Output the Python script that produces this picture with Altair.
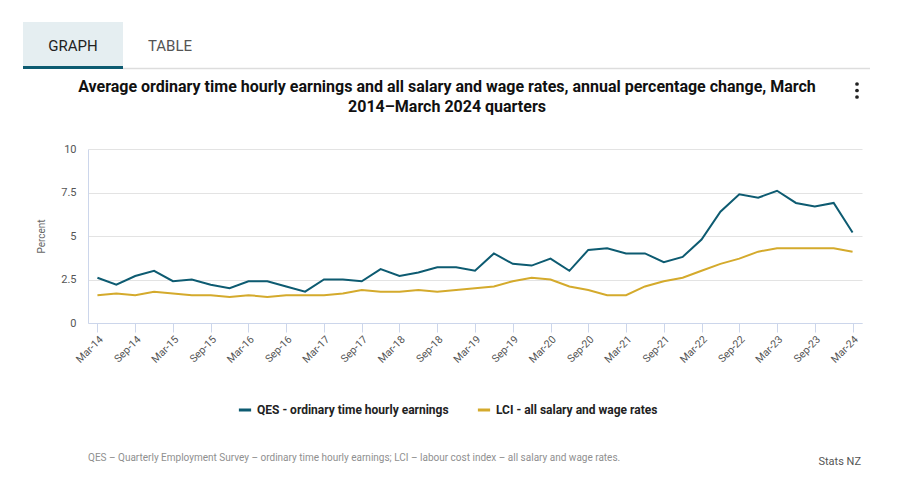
import altair as alt
import pandas as pd

quarters = [
    "Mar-14", "Jun-14", "Sep-14", "Dec-14",
    "Mar-15", "Jun-15", "Sep-15", "Dec-15",
    "Mar-16", "Jun-16", "Sep-16", "Dec-16",
    "Mar-17", "Jun-17", "Sep-17", "Dec-17",
    "Mar-18", "Jun-18", "Sep-18", "Dec-18",
    "Mar-19", "Jun-19", "Sep-19", "Dec-19",
    "Mar-20", "Jun-20", "Sep-20", "Dec-20",
    "Mar-21", "Jun-21", "Sep-21", "Dec-21",
    "Mar-22", "Jun-22", "Sep-22", "Dec-22",
    "Mar-23", "Jun-23", "Sep-23", "Dec-23",
    "Mar-24",
]

qes = [2.6, 2.2, 2.7, 3.0, 2.4, 2.5, 2.2, 2.0, 2.4, 2.4, 2.1, 1.8,
       2.5, 2.5, 2.4, 3.1, 2.7, 2.9, 3.2, 3.2, 3.0, 4.0, 3.4, 3.3,
       3.7, 3.0, 4.2, 4.3, 4.0, 4.0, 3.5, 3.8, 4.8, 6.4, 7.4, 7.2,
       7.6, 6.9, 6.7, 6.9, 5.2]

lci = [1.6, 1.7, 1.6, 1.8, 1.7, 1.6, 1.6, 1.5, 1.6, 1.5, 1.6, 1.6,
       1.6, 1.7, 1.9, 1.8, 1.8, 1.9, 1.8, 1.9, 2.0, 2.1, 2.4, 2.6,
       2.5, 2.1, 1.9, 1.6, 1.6, 2.1, 2.4, 2.6, 3.0, 3.4, 3.7, 4.1,
       4.3, 4.3, 4.3, 4.3, 4.1]

series_names = ["QES - ordinary time hourly earnings", "LCI - all salary and wage rates"]
series_colors = ["#0d5b71", "#d4aa2c"]

x_tick_labels = [q for q in quarters if q.startswith("Mar") or q.startswith("Sep")]
y_ticks = [0, 2.5, 5, 7.5, 10]

title_lines = [
    "Average ordinary time hourly earnings and all salary and wage rates, annual percentage change, March",
    "2014\u2013March 2024 quarters",
]
footnote = "QES \u2013 Quarterly Employment Survey \u2013 ordinary time hourly earnings; LCI \u2013 labour cost index \u2013 all salary and wage rates."
source = "Stats NZ"

rows = []
for q, v in zip(quarters, qes):
    rows.append({"quarter": q, "series": series_names[0], "value": v})
for q, v in zip(quarters, lci):
    rows.append({"quarter": q, "series": series_names[1], "value": v})
df = pd.DataFrame(rows)

FONT = "Roboto"
one = alt.Data(values=[{}])

lines = alt.Chart(df).mark_line(strokeWidth=2).encode(
    x=alt.X("quarter:O", sort=quarters,
            scale=alt.Scale(type="point", padding=0.5),
            axis=alt.Axis(title=None, values=x_tick_labels, labelAngle=-45,
                          labelFontSize=10.5, labelColor="#555555", labelFont=FONT,
                          tickSize=9, tickColor="#ccd6eb", domainColor="#ccd6eb",
                          labelPadding=2, grid=False)),
    y=alt.Y("value:Q", scale=alt.Scale(domain=[0, 10], nice=False),
            axis=alt.Axis(title="Percent", values=y_ticks, labelExpr="datum.value",
                          labelFontSize=11, labelColor="#555555", labelFont=FONT,
                          titleFontSize=10, titleFontWeight="normal", titleColor="#666666",
                          titleFont=FONT, titlePadding=14, labelPadding=12,
                          ticks=False, domainColor="#ccd6eb",
                          gridColor="#e3e3e3")),
    color=alt.Color("series:N", sort=series_names,
                    scale=alt.Scale(domain=series_names, range=series_colors),
                    legend=alt.Legend(title=None, orient="none", direction="horizontal",
                                      legendX=149, legendY=253,
                                      symbolType="stroke", symbolStrokeWidth=3,
                                      symbolSize=150, labelFont=FONT,
                                      labelFontSize=12, labelFontWeight="bold",
                                      labelColor="#222222", columnPadding=22,
                                      labelLimit=400)),
)

def txt(text, x, y, size, color, weight="normal", align="left", baseline="middle"):
    return alt.Chart(one).mark_text(
        font=FONT, fontSize=size, color=color, fontWeight=weight,
        align=align, baseline=baseline,
    ).encode(x=alt.value(x), y=alt.value(y), text=alt.value(text))

tab_bg = alt.Chart(one).mark_rect(color="#e5eef1").encode(
    x=alt.value(-65), x2=alt.value(35), y=alt.value(-127), y2=alt.value(-81))
tab_line = alt.Chart(one).mark_rule(color="#0d5b71", strokeWidth=3).encode(
    x=alt.value(-65), x2=alt.value(35), y=alt.value(-81.5))
sep_line = alt.Chart(one).mark_rule(color="#dddddd", strokeWidth=1.5).encode(
    x=alt.value(35), x2=alt.value(782), y=alt.value(-80.5))

dots = [alt.Chart(one).mark_circle(color="#222222", size=14, opacity=1).encode(
    x=alt.value(769), y=alt.value(yy)) for yy in (-65, -58.5, -52)]

chart = alt.layer(
    tab_bg, tab_line, sep_line,
    txt("GRAPH", -15, -103, 15, "#222222", align="center"),
    txt("TABLE", 82, -103, 15, "#555555", align="center"),
    txt(title_lines[0], 359, -62, 16, "#111111", weight="bold", align="center"),
    txt(title_lines[1], 359, -42, 16, "#111111", weight="bold", align="center"),
    *dots,
    lines,
    txt(footnote, 0, 309, 10, "#8f8f8f"),
    txt(source, 773, 313, 11, "#555555", align="right"),
).properties(
    width=774, height=174,
    autosize=alt.AutoSizeParams(type="none"),
    padding={"left": 80, "top": 141, "right": 39, "bottom": 166},
).configure_view(stroke=None)

chart.save("out.html", embed_options={"renderer": "svg", "actions": False})
